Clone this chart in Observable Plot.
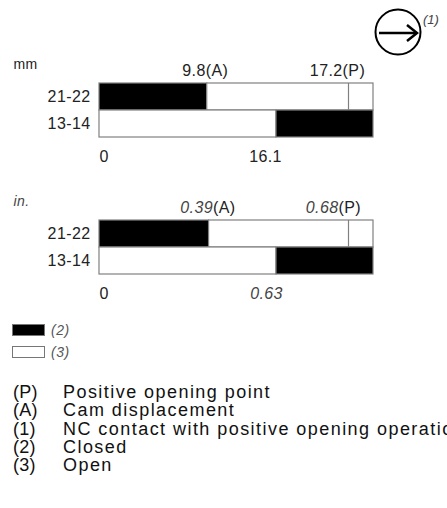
<!DOCTYPE html>
<html>
<head>
<meta charset="utf-8">
<script src="https://cdn.jsdelivr.net/npm/d3@7"></script>
<script src="https://cdn.jsdelivr.net/npm/@observablehq/plot@0.6"></script>
<style>
  body { margin: 0; background: #fff; }
  #root { position: relative; width: 447px; height: 508px; overflow: hidden; font-family: "Liberation Sans", Arial, sans-serif; color: #222; }
  .abs { position: absolute; }
  .legend-item { position: absolute; left: 12px; height: 12px; display: flex; align-items: center; }
  .swatch { width: 31px; height: 10px; border: 1px solid #777; }
  .legend-item span { margin-left: 6px; font-style: italic; font-size: 14px; color: #555; letter-spacing: 0.5px; }
  .note { position: absolute; left: 13px; font-size: 18px; line-height: 18px; letter-spacing: 1.45px; white-space: nowrap; color: #111; }
  .note .code { display: inline-block; width: 50px; letter-spacing: 0.3px; }
</style>
</head>
<body>
<div id="root">
  <svg class="abs" style="left:0;top:0" width="447" height="70">
    <circle cx="398" cy="32" r="22.5" fill="none" stroke="#000" stroke-width="2"/>
    <line x1="379" y1="33" x2="416" y2="33" stroke="#000" stroke-width="2.5"/>
    <polyline points="407,25 417,33 407,41" fill="none" stroke="#000" stroke-width="2.5"/>
    <text x="423" y="24" font-size="13" font-style="italic" fill="#444" font-family="Liberation Sans, Arial">(1)</text>
  </svg>
  <div id="c1" class="abs" style="left:0;top:0"></div>
  <div id="c2" class="abs" style="left:0;top:137px"></div>
  <div class="legend-item" style="top:324px"><div class="swatch" style="background:#000"></div><span>(2)</span></div>
  <div class="legend-item" style="top:346px"><div class="swatch" style="background:#fff"></div><span>(3)</span></div>
  <div id="notes"></div>
</div>
<script>
// rows (contact terminals)
const rows = ["21-22", "13-14"];
// millimetre values
const mmCam = 9.8;          // (A) cam displacement
const mmPositive = 17.2;    // (P) positive opening point
const mmSwitch = 16.1;      // NO contact closes
const mmEnd = 17.6;         // end of travel (unlabelled, estimated)
// inch values
const inCam = 0.39;
const inPositive = 0.68;
const inSwitch = 0.63;
const inEnd = 0.70;
// notes
const noteCodes = ["(P)", "(A)", "(1)", "(2)", "(3)"];
const noteTexts = ["Positive opening point", "Cam displacement", "NC contact with positive opening operation", "Closed", "Open"];

function chart({unit, cam, pos, sw, end, italic, camDx, posDx, swDx}) {
  const segs = [
    {row: rows[0], x1: 0, x2: cam, state: "closed"},
    {row: rows[0], x1: cam, x2: end, state: "open"},
    {row: rows[1], x1: 0, x2: sw, state: "open"},
    {row: rows[1], x1: sw, x2: end, state: "closed"}
  ];
  // the diagram is not drawn to scale: piecewise-linear travel axis
  const warp = d3.scaleLinear().domain([0, sw, pos, end]).range([0, 177, 249, 274]);
  const numFill = italic ? "#444" : "#222";
  const numStyle = italic ? "italic" : "normal";
  const top = {frameAnchor: "top", lineAnchor: "bottom", dy: -8, fill: "#222"};
  const bottom = {frameAnchor: "bottom", lineAnchor: "bottom", dy: 24, fill: "#222"};
  const marks = [
    Plot.barX(segs, {y: "row", x1: "x1", x2: "x2", fill: "state", stroke: "#808080", strokeWidth: 1.2}),
    Plot.tickX([{x: pos, row: rows[0]}], {x: "x", y: "row", stroke: "#808080", strokeWidth: 1.2}),
    Plot.axisY({tickSize: 0, tickPadding: 9, fontSize: 16, label: null, fill: "#222"}),
    Plot.text([unit], {frameAnchor: "top-left", textAnchor: "start", lineAnchor: "bottom", dx: -86, dy: -15, fontSize: 14, fontStyle: numStyle, fill: numFill}),
    Plot.text([0], {x: d => d, text: d => String(d), textAnchor: "start", ...bottom}),
    Plot.text([sw], {x: d => d, text: d => String(d), dx: swDx, fontStyle: numStyle, ...bottom, fill: numFill})
  ];
  if (italic) {
    marks.push(
      Plot.text([cam], {x: d => d, text: d => String(d), textAnchor: "end", dx: camDx, fontStyle: "italic", ...top, fill: "#444"}),
      Plot.text([cam], {x: d => d, text: () => "(A)", textAnchor: "start", dx: camDx, ...top}),
      Plot.text([pos], {x: d => d, text: d => String(d), textAnchor: "end", dx: posDx, fontStyle: "italic", ...top, fill: "#444"}),
      Plot.text([pos], {x: d => d, text: () => "(P)", textAnchor: "start", dx: posDx, ...top})
    );
  } else {
    marks.push(
      Plot.text([cam], {x: d => d, text: d => `${d}(A)`, dx: camDx, ...top}),
      Plot.text([pos], {x: d => d, text: d => `${d}(P)`, dx: posDx, ...top})
    );
  }
  return Plot.plot({
    width: 447, height: 170,
    marginLeft: 99, marginRight: 74, marginTop: 83, marginBottom: 33,
    style: {fontFamily: "Liberation Sans, Arial, sans-serif", fontSize: "16px", background: "transparent", color: "#222", letterSpacing: "0.4px"},
    x: {transform: warp, domain: [0, 274], axis: null},
    y: {domain: rows, padding: 0, axis: null},
    color: {domain: ["closed", "open"], range: ["#000", "#fff"]},
    marks
  });
}

document.getElementById("c1").appendChild(chart({unit: "mm", cam: mmCam, pos: mmPositive, sw: mmSwitch, end: mmEnd, italic: false, camDx: -2, posDx: -11, swDx: -11}));
document.getElementById("c2").appendChild(chart({unit: "in.", cam: inCam, pos: inPositive, sw: inSwitch, end: inEnd, italic: true, camDx: 4, posDx: -10, swDx: -10}));

const notes = document.getElementById("notes");
noteCodes.forEach((c, i) => {
  const d = document.createElement("div");
  d.className = "note";
  d.style.top = (383 + i * 18.3) + "px";
  d.innerHTML = `<span class="code">${c}</span>${noteTexts[i]}`;
  notes.appendChild(d);
});
</script>
</body>
</html>
